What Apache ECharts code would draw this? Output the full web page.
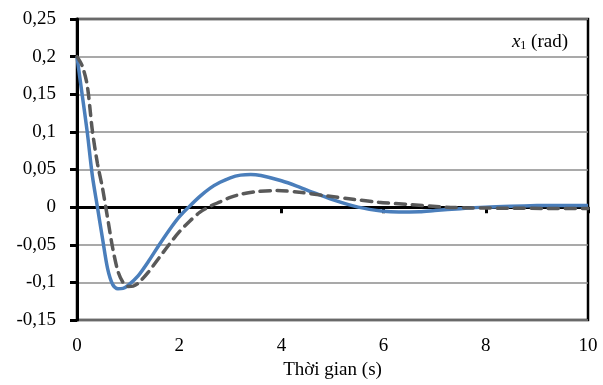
<!DOCTYPE html>
<html>
<head>
<meta charset="utf-8">
<script src="https://cdn.jsdelivr.net/npm/echarts@6/dist/echarts.min.js"></script>
<style>
  html, body { margin: 0; padding: 0; background: #fff; }
  #chart { width: 603px; height: 385px; }
</style>
</head>
<body>
<div id="chart"></div>
<script>
// time (s) and the two x1 responses
const timeA = [0, 0.1, 0.2, 0.3, 0.4, 0.5, 0.6, 0.7, 0.8, 0.9, 1.0, 1.2, 1.4, 1.6, 1.8, 2.0, 2.2, 2.4, 2.6, 2.8, 3.0, 3.2, 3.4, 3.6, 4.0, 4.3, 4.6, 5.0, 5.5, 6.0, 6.3, 6.7, 7.0, 7.5, 8.0, 8.5, 9.0, 9.5, 10];
const solidA = [0.200, 0.150, 0.100, 0.042, 0.000, -0.042, -0.082, -0.103, -0.1085, -0.108, -0.104, -0.091, -0.072, -0.051, -0.031, -0.013, 0.001, 0.014, 0.025, 0.033, 0.039, 0.0425, 0.0435, 0.042, 0.035, 0.028, 0.020, 0.010, 0.000, -0.0055, -0.0065, -0.006, -0.0045, -0.002, 0.000, 0.0012, 0.002, 0.0023, 0.0023];

const timeB = [0, 0.1, 0.2, 0.3, 0.4, 0.5, 0.6, 0.7, 0.8, 0.9, 1.0, 1.1, 1.2, 1.4, 1.6, 1.8, 2.0, 2.2, 2.4, 2.6, 2.8, 3.0, 3.2, 3.5, 3.9, 4.4, 4.9, 5.4, 5.9, 6.5, 7.2, 7.7, 8.5, 9.2, 10];
const dashB = [0.200, 0.188, 0.162, 0.102, 0.058, 0.025, -0.015, -0.055, -0.085, -0.100, -0.1055, -0.105, -0.101, -0.086, -0.068, -0.050, -0.033, -0.019, -0.007, 0.001, 0.007, 0.013, 0.017, 0.0205, 0.022, 0.0194, 0.0148, 0.0105, 0.0065, 0.0035, 0.000, -0.001, -0.0015, -0.0017, -0.0018];

const xTitle = 'Thời gian (s)';

const chart = echarts.init(document.getElementById('chart'));
const font = 'Liberation Serif, Times New Roman, serif';

chart.setOption({
  animation: false,
  textStyle: { fontFamily: font },
  title: {
    right: 30,
    top: 27,
    text: '{i|x}{s|1} (rad)',
    textStyle: {
      fontFamily: font,
      fontWeight: 'normal',
      fontSize: 19,
      color: '#000',
      rich: {
        i: { fontFamily: font, fontStyle: 'italic', fontSize: 19, color: '#000' },
        s: { fontFamily: font, fontSize: 12, color: '#000', padding: [8, 0, 0, 0] }
      }
    }
  },
  grid: {
    left: 77, right: 15, top: 19, bottom: 65,
    show: true, borderColor: '#000', borderWidth: 2.5
  },
  xAxis: {
    type: 'value',
    min: 0, max: 10, interval: 2,
    name: xTitle,
    nameLocation: 'middle',
    nameGap: 40,
    nameTextStyle: { fontFamily: font, fontSize: 19, color: '#000' },
    axisLine: { lineStyle: { color: '#000', width: 3 } },
    axisTick: { length: 6, lineStyle: { color: '#000', width: 3 } },
    axisLabel: { margin: 17, fontFamily: font, fontSize: 19, color: '#000' },
    splitLine: { show: false }
  },
  yAxis: {
    type: 'value',
    min: -0.15, max: 0.25, interval: 0.05,
    axisLine: { show: true, lineStyle: { color: '#000', width: 3 } },
    axisTick: { show: true, length: 7, lineStyle: { color: '#000', width: 3 } },
    axisLabel: {
      margin: 21, fontFamily: font, fontSize: 19, color: '#000',
      formatter: v => String(Math.round(v * 100) / 100).replace('.', ',')
    },
    splitLine: { lineStyle: { color: '#8c8c8c', width: 1.5 } }
  },
  series: [
    {
      type: 'line',
      data: timeA.map((t, i) => [t, solidA[i]]),
      smooth: 0.3,
      showSymbol: false,
      lineStyle: { color: '#4a7ebb', width: 3.5 }
    },
    {
      type: 'line',
      data: timeB.map((t, i) => [t, dashB[i]]),
      smooth: 0.3,
      showSymbol: false,
      lineStyle: { color: '#595959', width: 3.5, type: [10, 7], cap: 'round' }
    }
  ]
});
</script>
</body>
</html>
